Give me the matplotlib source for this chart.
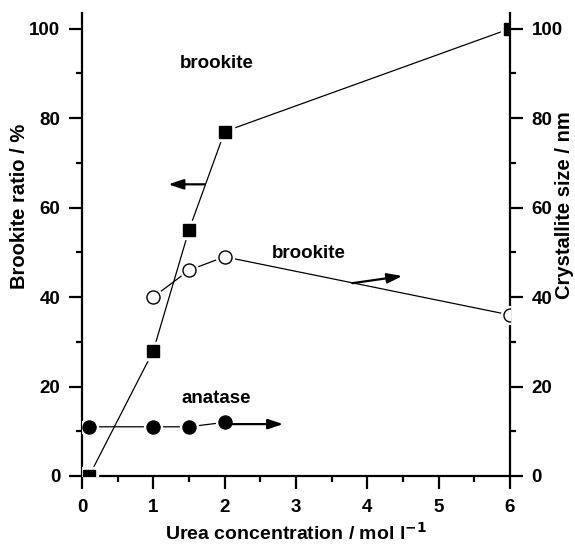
import matplotlib
matplotlib.use("Agg")
import matplotlib.pyplot as plt
from matplotlib.ticker import MultipleLocator

plt.rcParams['font.family'] = ['Liberation Sans', 'DejaVu Sans']
plt.rcParams['font.weight'] = 'bold'

# Data
urea_ratio = [0.1, 1, 1.5, 2, 6]
brookite_ratio = [0, 28, 55, 77, 100]

urea_bk_size = [1, 1.5, 2, 6]
brookite_size = [40, 46, 49, 36]

urea_an_size = [0.1, 1, 1.5, 2]
anatase_size = [11, 11, 11, 12]

xticks = [0, 1, 2, 3, 4, 5, 6]
yticks = [0, 20, 40, 60, 80, 100]

W, H = 575, 547
fig = plt.figure(figsize=(W / 100, H / 100), dpi=100)
ax = fig.add_axes([82 / W, 1 - 476 / H, (510 - 82) / W, (476 - 13) / H])
ax2 = ax.twinx()

lw_spine = 1.6
for a in (ax, ax2):
    a.set_xlim(0, 6)
    a.set_ylim(0, 103.5)
    a.spines['top'].set_visible(False)
    for s in a.spines.values():
        s.set_linewidth(lw_spine)
ax.spines['right'].set_visible(False)
ax2.spines['left'].set_visible(False)
ax2.spines['bottom'].set_visible(False)

def draw(a, x, y, marker, ms, fc):
    a.plot(x, y, color='black', lw=0.9, zorder=2)
    a.plot(x, y, linestyle='none', marker=marker, ms=ms + 3.5, mfc='white', mec='white', zorder=3)
    a.plot(x, y, linestyle='none', marker=marker, ms=ms, mfc=fc, mec='black', mew=1.0, zorder=4)

draw(ax, urea_ratio, brookite_ratio, 's', 8.8, 'black')
draw(ax2, urea_bk_size, brookite_size, 'o', 9.4, 'white')
draw(ax2, urea_an_size, anatase_size, 'o', 9.4, 'black')

ax.set_xticks(xticks)
ax.xaxis.set_minor_locator(MultipleLocator(0.5))
ax.set_yticks(yticks)
ax.yaxis.set_minor_locator(MultipleLocator(10))
ax2.set_yticks(yticks)
ax2.yaxis.set_minor_locator(MultipleLocator(10))

for a in (ax, ax2):
    a.tick_params(which='major', direction='out', length=9.5, width=lw_spine, labelsize=13.5, pad=6)
    a.tick_params(which='minor', direction='out', length=4.5, width=lw_spine)
ax.tick_params(axis='x', which='major', pad=7)
for lab in ax.get_xticklabels() + ax.get_yticklabels() + ax2.get_yticklabels():
    lab.set_fontweight('bold')

fig.text(296 / W, 1 - 533 / H, 'Urea concentration / mol l$^{\\mathbf{-1}}$', fontsize=14,
         fontweight='bold', ha='center', va='center')
fig.text(20 / W, 1 - 206 / H, 'Brookite ratio / %', rotation=90, fontsize=14.5,
         fontweight='bold', ha='center', va='center')
fig.text(564 / W, 1 - 205 / H, 'Crystallite size / nm', rotation=90, fontsize=14.5,
         fontweight='bold', ha='center', va='center')

# Annotations
ax.text(1.89, 92.3, 'brookite', fontsize=13.5, fontweight='bold', ha='center', va='center')
ax.text(3.18, 49.8, 'brookite', fontsize=13.5, fontweight='bold', ha='center', va='center')
ax.text(1.88, 17.4, 'anatase', fontsize=13.5, fontweight='bold', ha='center', va='center')

aprops = dict(arrowstyle='-|>,head_length=0.9,head_width=0.3', color='black', lw=1.6,
              shrinkA=0, shrinkB=0)
ax.annotate('', xy=(1.21, 65.2), xytext=(1.72, 65.2), arrowprops=aprops)
ax2.annotate('', xy=(4.49, 44.7), xytext=(3.79, 43.1), arrowprops=aprops)
ax2.annotate('', xy=(2.82, 11.6), xytext=(2.10, 11.6), arrowprops=aprops)

fig.savefig('out.png', dpi=100)
